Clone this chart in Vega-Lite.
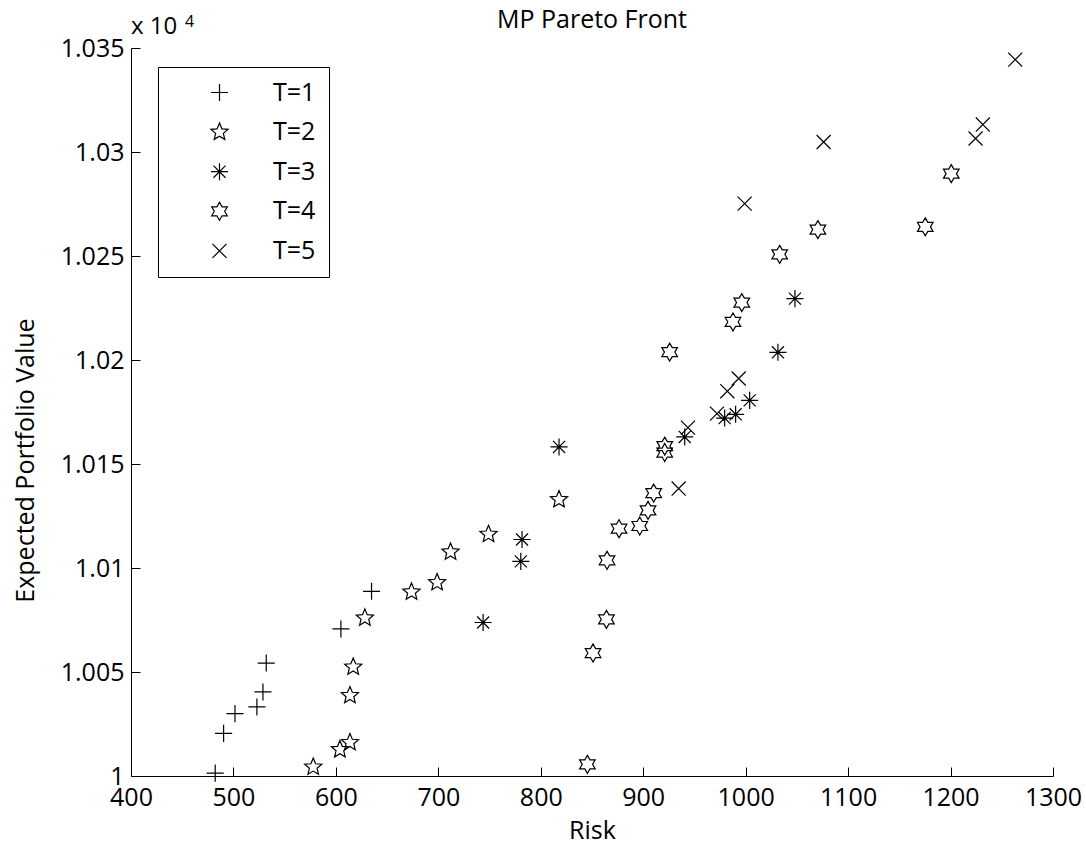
{
  "$schema": "https://vega.github.io/schema/vega-lite/v6.json",
  "width": 922,
  "height": 728,
  "autosize": {"type": "none"},
  "padding": {"left": 131, "top": 48, "right": 33, "bottom": 73},
  "background": "white",
  "title": {"text": "MP Pareto Front", "fontSize": 25, "font": "Open Sans", "fontWeight": "normal", "color": "black", "baseline": "alphabetic", "offset": -39, "anchor": "middle", "frame": "group"},
  "config": {
    "font": "Open Sans",
    "view": {"stroke": null},
    "axis": {"grid": false, "domainColor": "black", "tickColor": "black", "labelColor": "black", "titleColor": "black", "labelFontSize": 25, "titleFontSize": 25, "titleFontWeight": "normal", "labelFont": "Open Sans", "titleFont": "Open Sans", "tickSize": -9, "domainWidth": 1, "tickWidth": 1, "labelFlush": false, "labelOverlap": false, "labelBound": false}
  },
  "datasets": {
    "pts": [
      {"T": "T=1", "risk": 482.2, "value": 10001.4},
      {"T": "T=1", "risk": 490.4, "value": 10020.5},
      {"T": "T=1", "risk": 501.5, "value": 10030.0},
      {"T": "T=1", "risk": 522.9, "value": 10033.2},
      {"T": "T=1", "risk": 528.8, "value": 10040.4},
      {"T": "T=1", "risk": 532.0, "value": 10054.3},
      {"T": "T=1", "risk": 604.9, "value": 10070.7},
      {"T": "T=1", "risk": 634.8, "value": 10088.8},
      {"T": "T=2", "risk": 577.9, "value": 10004.3},
      {"T": "T=2", "risk": 603.9, "value": 10012.7},
      {"T": "T=2", "risk": 613.7, "value": 10016.1},
      {"T": "T=2", "risk": 613.7, "value": 10038.7},
      {"T": "T=2", "risk": 616.9, "value": 10052.4},
      {"T": "T=2", "risk": 628.3, "value": 10076.0},
      {"T": "T=2", "risk": 673.8, "value": 10088.5},
      {"T": "T=2", "risk": 698.8, "value": 10093.0},
      {"T": "T=2", "risk": 711.9, "value": 10107.7},
      {"T": "T=2", "risk": 749.0, "value": 10116.2},
      {"T": "T=2", "risk": 817.8, "value": 10132.9},
      {"T": "T=3", "risk": 743.7, "value": 10073.8},
      {"T": "T=3", "risk": 780.5, "value": 10103.2},
      {"T": "T=3", "risk": 781.7, "value": 10113.7},
      {"T": "T=3", "risk": 817.8, "value": 10158.2},
      {"T": "T=3", "risk": 940.5, "value": 10163.0},
      {"T": "T=3", "risk": 979.5, "value": 10172.1},
      {"T": "T=3", "risk": 990.2, "value": 10173.9},
      {"T": "T=3", "risk": 1003.9, "value": 10180.6},
      {"T": "T=3", "risk": 1031.5, "value": 10203.7},
      {"T": "T=3", "risk": 1048.1, "value": 10229.5},
      {"T": "T=4", "risk": 845.5, "value": 10005.6},
      {"T": "T=4", "risk": 851.0, "value": 10059.1},
      {"T": "T=4", "risk": 864.1, "value": 10075.3},
      {"T": "T=4", "risk": 864.7, "value": 10103.7},
      {"T": "T=4", "risk": 876.4, "value": 10118.9},
      {"T": "T=4", "risk": 896.6, "value": 10120.2},
      {"T": "T=4", "risk": 904.7, "value": 10127.7},
      {"T": "T=4", "risk": 910.2, "value": 10136.0},
      {"T": "T=4", "risk": 921.0, "value": 10155.5},
      {"T": "T=4", "risk": 921.0, "value": 10158.6},
      {"T": "T=4", "risk": 925.8, "value": 10203.8},
      {"T": "T=4", "risk": 987.6, "value": 10218.3},
      {"T": "T=4", "risk": 996.2, "value": 10227.6},
      {"T": "T=4", "risk": 1033.2, "value": 10250.8},
      {"T": "T=4", "risk": 1070.5, "value": 10262.7},
      {"T": "T=4", "risk": 1175.3, "value": 10264.0},
      {"T": "T=4", "risk": 1200.7, "value": 10289.6},
      {"T": "T=5", "risk": 934.6, "value": 10138.2},
      {"T": "T=5", "risk": 943.7, "value": 10167.5},
      {"T": "T=5", "risk": 972.0, "value": 10174.2},
      {"T": "T=5", "risk": 982.1, "value": 10185.0},
      {"T": "T=5", "risk": 993.2, "value": 10191.1},
      {"T": "T=5", "risk": 999.0, "value": 10275.2},
      {"T": "T=5", "risk": 1076.1, "value": 10304.8},
      {"T": "T=5", "risk": 1224.4, "value": 10306.5},
      {"T": "T=5", "risk": 1231.5, "value": 10313.2},
      {"T": "T=5", "risk": 1263.1, "value": 10344.4}
    ]
  },
  "layer": [
    {
      "data": {"name": "pts"},
      "mark": {"type": "point", "filled": false, "color": "black", "strokeWidth": 1.2, "size": 324, "opacity": 1},
      "encoding": {
        "x": {"field": "risk", "type": "quantitative", "scale": {"domain": [400, 1300], "nice": false, "zero": false},
              "axis": {"values": [400, 500, 600, 700, 800, 900, 1000, 1100, 1200, 1300], "format": "d", "title": "Risk", "labelPadding": 18, "titlePadding": 8}},
        "y": {"field": "value", "type": "quantitative", "scale": {"domain": [10000, 10350], "nice": false, "zero": false},
              "axis": {"values": [10000, 10050, 10100, 10150, 10200, 10250, 10300, 10350], "labelExpr": "format(datum.value/10000, '.3~f')", "title": "Expected Portfolio Value", "labelPadding": 16, "titleX": -98, "titleY": 412, "titleAngle": 270, "titleBaseline": "alphabetic", "titleAlign": "center"}},
        "shape": {"field": "T", "type": "nominal",
          "scale": {"domain": ["T=1", "T=2", "T=3", "T=4", "T=5"],
                    "range": [
                      "M-0.95,0L0.95,0M0,-0.95L0,0.95",
                      "M0,-1L0.2645,-0.3641L0.9511,-0.309L0.428,0.1391L0.5878,0.809L0,0.45L-0.5878,0.809L-0.428,0.1391L-0.9511,-0.309L-0.2645,-0.3641Z",
                      "M-0.95,0L0.95,0M0,-0.95L0,0.95M-0.67,-0.67L0.67,0.67M-0.67,0.67L0.67,-0.67",
                      "M0,-1L0.2887,-0.5L0.866,-0.5L0.577,0L0.866,0.5L0.2887,0.5L0,1L-0.2887,0.5L-0.866,0.5L-0.577,0L-0.866,-0.5L-0.2887,-0.5Z",
                      "M-0.78,-0.78L0.78,0.78M-0.78,0.78L0.78,-0.78"
                    ]},
          "legend": {"orient": "none", "legendX": 27, "legendY": 19, "title": null, "strokeColor": "black", "fillColor": "white", "padding": 13, "symbolOffset": 36, "labelOffset": 41, "labelFontSize": 25, "labelFont": "Open Sans", "labelColor": "black", "rowPadding": 13.6, "symbolSize": 324, "symbolStrokeWidth": 1.2, "symbolStrokeColor": "black", "symbolFillColor": "transparent", "cornerRadius": 0}
        }
      }
    },
    {
      "data": {"values": [{"t": "x 10"}]},
      "mark": {"type": "text", "align": "left", "baseline": "alphabetic", "fontSize": 24, "font": "Open Sans", "color": "black", "dx": 0, "dy": -14},
      "encoding": {"x": {"datum": 400}, "y": {"datum": 10350}, "text": {"field": "t"}}
    },
    {
      "data": {"values": [{"t": "4"}]},
      "mark": {"type": "text", "align": "left", "baseline": "alphabetic", "fontSize": 16, "font": "Open Sans", "color": "black", "dx": 54, "dy": -21},
      "encoding": {"x": {"datum": 400}, "y": {"datum": 10350}, "text": {"field": "t"}}
    }
  ]
}
